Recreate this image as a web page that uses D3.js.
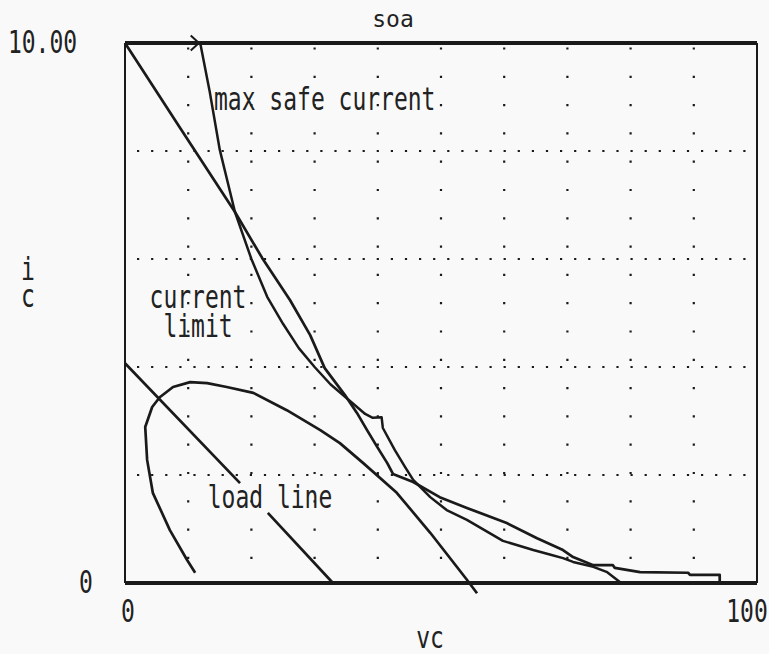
<!DOCTYPE html>
<html><head><meta charset="utf-8">
<script src="https://cdn.jsdelivr.net/npm/d3@7"></script>
<style>
body{margin:0;background:#f9f9f9}
text{font-family:"DejaVu Sans Mono",monospace;font-size:23px;fill:#222}
</style>
</head><body>
<svg id="c" width="769" height="654"></svg>
<script>
// ---- data (vc in volts, ic in amps) ----
const xTickValues = [0, 100];
const xTickLabels = ["0", "100"];
const yTickValues = [0, 10];
const yTickLabels = ["0", "10.00"];
const gridVc = [10, 20, 30, 40, 50, 60, 70, 80, 90];
const gridIc = [2, 4, 6, 8];

// max safe current (power hyperbola, second-breakdown kink, tail)
const maxSafeCurrent = [
  [11.9,10.0],[13.4,9.1],[15.0,8.02],[17.4,6.87],[20.0,6.0],[22.5,5.3],[25.0,4.8],
  [27.5,4.35],[30.0,4.0],[32.5,3.68],[35.6,3.37],[38.0,3.13],[39.2,3.06],[40.6,3.07],
  [40.8,2.87],[42.7,2.46],[44.3,2.15],[45.6,1.91],[48.3,1.59],[50.9,1.35],[54.1,1.17],
  [59.8,0.78],[64.6,0.61],[67.5,0.52],[69.3,0.46],[70.9,0.39],[74.1,0.30],[76.3,0.20],[78.3,0.02]
];
// current limit curve
const currentLimit = [
  [0,10.0],[8.7,8.43],[17.4,6.87],[21.7,6.02],[26.1,5.24],[29.3,4.59],[31.6,3.98],
  [34.8,3.48],[36.7,3.15],[38.3,2.83],[39.9,2.52],[41.5,2.22],[42.4,2.02],
  [45.6,1.87],[49.8,1.59],[54.1,1.39],[60.4,1.11],[65.2,0.83],[69.3,0.61],[70.9,0.48],
  [74.1,0.33],[77.2,0.33],[77.5,0.28],[81.5,0.20],[89.1,0.19],[89.4,0.15],[94.1,0.15],[94.1,0.0]
];
// load trajectory (arc)
const loadCurve = [
  [11.1,0.19],[9.8,0.43],[7.1,0.98],[4.4,1.67],[3.5,2.28],[3.2,2.89],[4.3,3.26],[5.5,3.44],
  [7.6,3.63],[10.3,3.72],[13.0,3.70],[16.1,3.63],[20.3,3.52],[25.6,3.20],[30.9,2.83],
  [34.0,2.59],[37.7,2.22],[43.0,1.67],[48.3,0.93],[54.1,0.06],[55.7,-0.19]
];
// load line (broken around its label)
const loadLine = [[0,4.07],[18.2,1.85],null,[22.6,1.30],[32.9,0]];
// arrow mark at top border
const topArrow = [[10.4,10.14],[11.7,10.0],[10.4,9.86]];

// ---- chart ----
const svg = d3.select("#c");
svg.append("rect").attr("width",769).attr("height",654).attr("fill","#f9f9f9");
const x = d3.scaleLinear().domain([0,100]).range([125,757]);
const y = d3.scaleLinear().domain([0,10]).range([583,43]);
const ink = "#1a1a1a";

// dotted grid
svg.append("g").selectAll("line").data(gridVc).join("line")
  .attr("x1",d=>x(d)).attr("x2",d=>x(d)).attr("y1",y(0)).attr("y2",y(10))
  .attr("stroke",ink).attr("stroke-width",2.2).attr("stroke-dasharray","2.2,26.1").attr("stroke-dashoffset",4.3);
svg.append("g").selectAll("line").data(gridIc).join("line")
  .attr("x1",x(0)).attr("x2",x(100)).attr("y1",d=>y(d)).attr("y2",d=>y(d))
  .attr("stroke",ink).attr("stroke-width",2.2).attr("stroke-dasharray","2.2,11.9").attr("stroke-dashoffset",2.1);

// frame
svg.append("line").attr("x1",x(0)).attr("x2",x(100)).attr("y1",y(10)).attr("y2",y(10)).attr("stroke",ink).attr("stroke-width",4);
svg.append("line").attr("x1",x(0)).attr("x2",x(100)).attr("y1",y(0)).attr("y2",y(0)).attr("stroke",ink).attr("stroke-width",4);
svg.append("line").attr("x1",x(0)).attr("x2",x(0)).attr("y1",y(0)).attr("y2",y(10)).attr("stroke",ink).attr("stroke-width",2);
svg.append("line").attr("x1",x(100)).attr("x2",x(100)).attr("y1",y(0)).attr("y2",y(10)).attr("stroke",ink).attr("stroke-width",2);

// curves
const line = d3.line().defined(d=>d!==null).x(d=>x(d[0])).y(d=>y(d[1]));
const curves = [[maxSafeCurrent,2.5],[currentLimit,2.7],[loadCurve,2.7],[loadLine,2.7],[topArrow,2]];
curves.forEach(([data,w])=>{
  svg.append("path").attr("d",line(data)).attr("fill","none").attr("stroke",ink)
    .attr("stroke-width",w).attr("stroke-linejoin","round");
});

// text
function label(lines, px, py, sy, anchor, lineGap){
  const t = svg.append("text").attr("transform",`translate(${px},${py}) scale(1,${sy})`)
    .attr("text-anchor",anchor||"start");
  [].concat(lines).forEach((s,k)=>{
    t.append("tspan").attr("x",0).attr("dy", k===0 ? 0 : lineGap).text(s);
  });
}
label("soa", 393, 27, 1.0, "middle");
label(yTickLabels[1], 42.5, y(yTickValues[1])+10, 1.37, "middle");
label(yTickLabels[0], 86, y(yTickValues[0])+10, 1.37, "middle");
label(xTickLabels[0], x(xTickValues[0])+3, 622, 1.37, "middle");
label(xTickLabels[1], x(xTickValues[1])-10, 622, 1.37, "middle");
label("vc", 430, 648, 1.3, "middle");
label(["i","c"], 28, 280, 1.4, "middle", 27/1.4);
label("max safe current", 214, 110, 1.42);
label(["current","limit"], 198, 308, 1.42, "middle", 29/1.42);
label("load line", 270, 508, 1.42, "middle");
</script>
</body></html>
